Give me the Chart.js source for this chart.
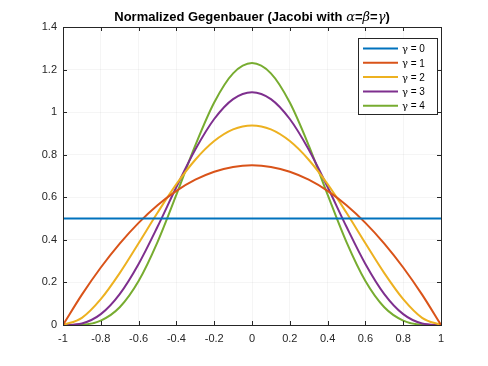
<!DOCTYPE html>
<html>
<head>
<meta charset="utf-8">
<script src="https://cdn.jsdelivr.net/npm/chart.js@4"></script>
<style>
  html, body { margin: 0; padding: 0; background: #fff; }
  #wrap { width: 488px; height: 366px; }
</style>
</head>
<body>
<div id="wrap"><canvas id="chart" width="488" height="366"></canvas></div>
<script>
// x positions of the sampled points
const xValues = [-1, -0.9, -0.8, -0.7, -0.6, -0.5, -0.4, -0.3, -0.2, -0.1, 0,
                 0.1, 0.2, 0.3, 0.4, 0.5, 0.6, 0.7, 0.8, 0.9, 1];

// weight values (gamma = 0..4)
const gamma0 = [0.5, 0.5, 0.5, 0.5, 0.5, 0.5, 0.5, 0.5, 0.5, 0.5, 0.5,
                0.5, 0.5, 0.5, 0.5, 0.5, 0.5, 0.5, 0.5, 0.5, 0.5];
const gamma1 = [0, 0.1425, 0.27, 0.3825, 0.48, 0.5625, 0.63, 0.6825, 0.72, 0.7425, 0.75,
                0.7425, 0.72, 0.6825, 0.63, 0.5625, 0.48, 0.3825, 0.27, 0.1425, 0];
const gamma2 = [0, 0.0338, 0.1215, 0.2438, 0.384, 0.5273, 0.6615, 0.7763, 0.864, 0.9188, 0.9375,
                0.9188, 0.864, 0.7763, 0.6615, 0.5273, 0.384, 0.2438, 0.1215, 0.0338, 0];
const gamma3 = [0, 0.0075, 0.051, 0.1451, 0.2867, 0.4614, 0.6483, 0.8242, 0.9677, 1.0613, 1.0938,
                1.0613, 0.9677, 0.8242, 0.6483, 0.4614, 0.2867, 0.1451, 0.051, 0.0075, 0];
const gamma4 = [0, 0.0016, 0.0207, 0.0832, 0.2064, 0.3893, 0.6126, 0.8438, 1.0451, 1.182, 1.2305,
                1.182, 1.0451, 0.8438, 0.6126, 0.3893, 0.2064, 0.0832, 0.0207, 0.0016, 0];

const seriesLabels = ['\u03b3 = 0', '\u03b3 = 1', '\u03b3 = 2', '\u03b3 = 3', '\u03b3 = 4'];
const seriesColors = ['#0072BD', '#D95319', '#EDB120', '#7E2F8E', '#77AC30'];
const seriesValues = [gamma0, gamma1, gamma2, gamma3, gamma4];

const xTicks = [-1, -0.8, -0.6, -0.4, -0.2, 0, 0.2, 0.4, 0.6, 0.8, 1];
const yTicks = [0, 0.2, 0.4, 0.6, 0.8, 1, 1.2, 1.4];

// title pieces: [text, greek?]
const titleParts = [['Normalized Gegenbauer (Jacobi with ', false], ['\u03b1', true], ['=', false],
                    ['\u03b2', true], ['=', false], ['\u03b3', true], [')', false]];
const FONT = "'Liberation Sans', Arial, sans-serif";
const GREEK = "'DejaVu Serif', 'Liberation Serif', serif";

// frame, inward ticks, title and legend in the matlab style
const matlabBox = {
    id: 'matlabBox',
    afterDatasetsDraw(chart) {
        const { ctx, chartArea: a, scales } = chart;
        ctx.save();
        ctx.strokeStyle = '#262626';
        ctx.lineWidth = 1;
        ctx.beginPath();
        xTicks.forEach(v => {
            const px = Math.round(scales.x.getPixelForValue(v)) + 0.5;
            ctx.moveTo(px, a.bottom); ctx.lineTo(px, a.bottom - 4);
            ctx.moveTo(px, a.top); ctx.lineTo(px, a.top + 4);
        });
        yTicks.forEach(v => {
            const py = Math.round(scales.y.getPixelForValue(v)) + 0.5;
            ctx.moveTo(a.left, py); ctx.lineTo(a.left + 4, py);
            ctx.moveTo(a.right, py); ctx.lineTo(a.right - 4, py);
        });
        ctx.stroke();
        ctx.strokeRect(Math.round(a.left) + 0.5, Math.round(a.top) + 0.5,
                       Math.round(a.right - a.left), Math.round(a.bottom - a.top));

        // title, greek letters in italic serif
        ctx.fillStyle = '#000';
        ctx.textBaseline = 'alphabetic';
        ctx.textAlign = 'left';
        const fontFor = g => g ? 'italic 13px ' + GREEK : 'bold 13px ' + FONT;
        let total = 0;
        titleParts.forEach(([t, g]) => { ctx.font = fontFor(g); total += ctx.measureText(t).width; });
        let tx = (a.left + a.right) / 2 - total / 2;
        titleParts.forEach(([t, g]) => {
            ctx.font = fontFor(g);
            ctx.fillText(t, tx, 21);
            tx += ctx.measureText(t).width;
        });

        // legend box
        const lx = 358, ly = 38, lw = 79, lh = 76;
        ctx.fillStyle = '#fff';
        ctx.fillRect(lx, ly, lw, lh);
        ctx.strokeStyle = '#262626';
        ctx.lineWidth = 1;
        ctx.strokeRect(lx + 0.5, ly + 0.5, lw, lh);
        ctx.textBaseline = 'middle';
        seriesLabels.forEach((lab, i) => {
            const y = ly + 10.5 + i * 14.3;
            ctx.strokeStyle = seriesColors[i];
            ctx.lineWidth = 2;
            ctx.beginPath();
            ctx.moveTo(lx + 5, y); ctx.lineTo(lx + 40, y);
            ctx.stroke();
            ctx.fillStyle = '#000';
            ctx.font = '10px ' + GREEK;
            ctx.fillText(lab.charAt(0), lx + 44, y + 1);
            const gw = ctx.measureText(lab.charAt(0)).width;
            ctx.font = '10px ' + FONT;
            ctx.fillText(lab.slice(1), lx + 44 + gw, y + 1);
        });
        ctx.restore();
    }
};

new Chart(document.getElementById('chart'), {
    type: 'line',
    data: {
        datasets: seriesValues.map((vals, i) => ({
            label: seriesLabels[i],
            data: xValues.map((x, j) => ({ x: x, y: vals[j] })),
            borderColor: seriesColors[i],
            borderWidth: 2,
            pointRadius: 0,
            fill: false,
            cubicInterpolationMode: 'monotone'
        }))
    },
    options: {
        responsive: false,
        animation: false,
        devicePixelRatio: 1,
        layout: { padding: { left: 0, top: 27, right: 47, bottom: 0 } },
        plugins: {
            legend: { display: false },
            title: { display: false },
            tooltip: { enabled: false }
        },
        scales: {
            x: {
                type: 'linear',
                min: -1,
                max: 1,
                afterBuildTicks: s => { s.ticks = xTicks.map(v => ({ value: v })); },
                afterFit: s => { s.height = 41; },
                grid: { color: 'rgba(0,0,0,0.04)', drawTicks: false },
                border: { display: false },
                ticks: {
                    padding: 7,
                    color: '#262626',
                    font: { family: FONT, size: 11 },
                    maxRotation: 0,
                    callback: v => String(Math.round(v * 10) / 10)
                }
            },
            y: {
                type: 'linear',
                min: 0,
                max: 1.4,
                afterBuildTicks: s => { s.ticks = yTicks.map(v => ({ value: v })); },
                afterFit: s => { s.width = 63; },
                grid: { color: 'rgba(0,0,0,0.04)', drawTicks: false },
                border: { display: false },
                ticks: {
                    padding: 6,
                    color: '#262626',
                    font: { family: FONT, size: 11 },
                    callback: v => String(Math.round(v * 10) / 10)
                }
            }
        }
    },
    plugins: [matlabBox]
});
</script>
</body>
</html>
